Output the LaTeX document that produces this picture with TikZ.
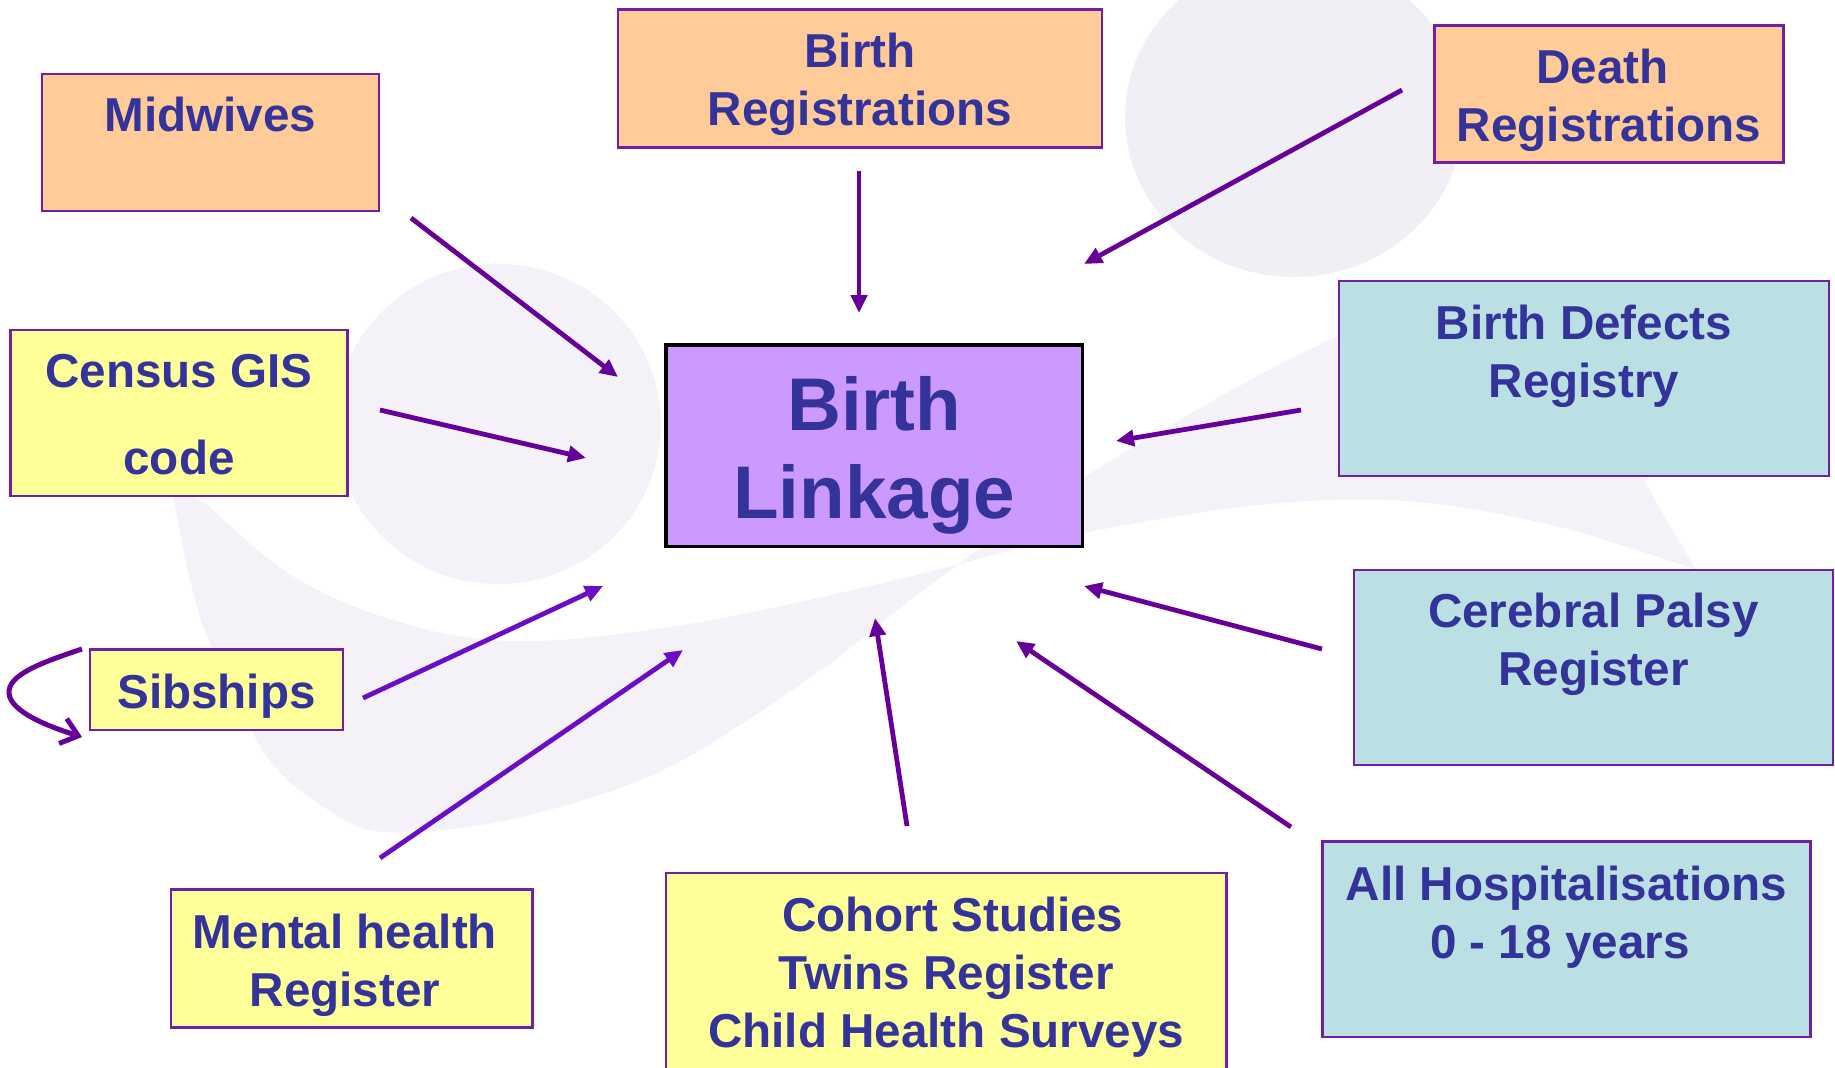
\documentclass[tikz,border=0pt]{standalone}
\usepackage{fontspec}
\setmainfont{Liberation Sans}
\usetikzlibrary{arrows.meta,calc}
\definecolor{txtblue}{HTML}{333399}
\definecolor{boxborder}{HTML}{7020A0}
\definecolor{orangefill}{HTML}{FFCC99}
\definecolor{yellowfill}{HTML}{FFFF99}
\definecolor{tealfill}{HTML}{BBE0E3}
\definecolor{linkfill}{HTML}{CC99FF}
\definecolor{arrowdark}{HTML}{660099}
\definecolor{arrowbright}{HTML}{6A0DC8}
\definecolor{bgl}{HTML}{F1EFF6}
\definecolor{bgs}{HTML}{F4F2F8}
\begin{document}
\begin{tikzpicture}[x=0.5pt,y=-0.5pt,
  box/.style={draw=boxborder,line width=1.3pt,inner sep=0pt,rectangle},
  lbl/.style={text=txtblue,font=\bfseries\fontsize{23.8}{29}\selectfont,align=center,anchor=base,inner sep=0pt},
  arr/.style={draw=arrowdark,line width=2.4pt,-{Triangle[length=9pt,width=8pt]}},
  arrb/.style={arr,draw=arrowbright},
]
\clip (0,0) rectangle (1835,1067);
\fill[white] (0,0) rectangle (1835,1067);
% background logo shapes
\fill[bgl] (1294,117) ellipse [x radius=84.5pt, y radius=80pt];
\fill[bgs] plot[smooth,tension=0.55] coordinates {(170,480) (190,580) (212,648) (268,758) (330,811) (386,832) (508,820) (661,771) (814,675) (933,583) (1097,469) (1335,338) (1480,312) (1560,320)}
  -- plot[smooth] coordinates {(1560,320) (1620,400) (1645,481) (1697,570)}
  -- plot[smooth,tension=0.55] coordinates {(1697,570) (1556,526) (1407,501) (1258,505) (1079,534) (900,579) (712,620) (559,640) (457,636) (355,607) (279,567) (202,501) (170,480)} -- cycle;
\fill[bgs] (498,424) ellipse [x radius=81.5pt, y radius=80pt];

% boxes
\node[box,fill=orangefill,minimum width=168.5pt,minimum height=68.5pt] (mid) at (210.5,142.5) {};
\node[box,fill=orangefill,minimum width=242pt,minimum height=69pt] (breg) at (860,78.5) {};
\node[box,fill=orangefill,minimum width=174.3pt,minimum height=68.5pt] (dreg) at (1609,94.2) {};
\node[box,fill=yellowfill,minimum width=168.5pt,minimum height=83pt] (census) at (179,413) {};
\node[box,draw=black,line width=1.6pt,fill=linkfill,minimum width=208.3pt,minimum height=100.8pt] (link) at (874.2,445.8) {};
\node[box,fill=tealfill,minimum width=245pt,minimum height=97.5pt] (defects) at (1584,378.5) {};
\node[box,fill=yellowfill,minimum width=126.5pt,minimum height=40.3pt] (sib) at (216.5,689.8) {};
\node[box,fill=tealfill,minimum width=239.5pt,minimum height=97.5pt] (cp) at (1593.5,667.5) {};
\node[box,fill=yellowfill,minimum width=180.8pt,minimum height=69pt] (mh) at (351.8,958.5) {};
\node[box,fill=yellowfill,minimum width=280.3pt,minimum height=108.5pt] (cohort) at (946.2,981.5) {};
\node[box,fill=tealfill,minimum width=244pt,minimum height=97.8pt] (hosp) at (1566.5,939.2) {};

% labels (anchor = baseline of last line)
\node[lbl] (tmid) at (210.5,131) {Midwives};
\node[lbl] (tbreg) at (860,125) {Birth\\Registrations};
\node[lbl] (tdreg) at (1609,141) {Death\hspace*{6.6pt}\\Registrations};
\node[lbl,font=\bfseries\fontsize{23.8}{43.5}\selectfont] (tcensus) at (179,474) {Census GIS\\code};
\node[lbl,font=\bfseries\fontsize{37.3}{44}\selectfont] (tlink) at (874.2,518.6) {Birth\\Linkage};
\node[lbl] (tdefects) at (1584,397.4) {Birth Defects\\Registry};
\node[lbl] (tsib) at (216.5,708) {Sibships};
\node[lbl] (tcp) at (1593.5,685) {Cerebral Palsy\\Register};
\node[lbl] (tmh) at (345,1006) {Mental health\\Register};
\node[lbl] (tcohort) at (946.2,1047.5) {\hspace*{6.6pt}Cohort Studies\\Twins Register\\Child Health Surveys};
\node[lbl] (thosp) at (1566.5,958) {All Hospitalisations\\0 - 18 years\hspace*{6.6pt}};

% arrow end points
\coordinate (a1s) at (411,218);  \coordinate (a1e) at (618,377);
\coordinate (a2s) at (859,171);  \coordinate (a2e) at (859,313);
\coordinate (a3s) at (1402,90);  \coordinate (a3e) at (1084,264);
\coordinate (a4s) at (380,410);  \coordinate (a4e) at (586,458);
\coordinate (a5s) at (1301,410); \coordinate (a5e) at (1116,441);
\coordinate (a6s) at (363,698);  \coordinate (a6e) at (603,586);
\coordinate (a7s) at (1322,649); \coordinate (a7e) at (1084,586);
\coordinate (a8s) at (380,858);  \coordinate (a8e) at (683,650);
\coordinate (a9s) at (907,826);  \coordinate (a9e) at (875,618);
\coordinate (a10s) at (1291,827); \coordinate (a10e) at (1016,641);
\coordinate (ls) at (82,649);    \coordinate (le) at (82,737);

\draw[arr] (a1s) -- (a1e);
\draw[arr] (a2s) -- (a2e);
\draw[arr] (a3s) -- (a3e);
\draw[arr] (a4s) -- (a4e);
\draw[arr] (a5s) -- (a5e);
\draw[arrb] (a6s) -- (a6e);
\draw[arr] (a7s) -- (a7e);
\draw[arrb] (a8s) -- (a8e);
\draw[arr] (a9s) -- (a9e);
\draw[arr] (a10s) -- (a10e);
\draw[draw=arrowdark,line width=2.5pt,-{Straight Barb[length=8pt,width=13pt]}]
  (ls) .. controls (40,663) and (8,675) .. (9,693) .. controls (10,712) and (50,727) .. (le);
\end{tikzpicture}
\end{document}
